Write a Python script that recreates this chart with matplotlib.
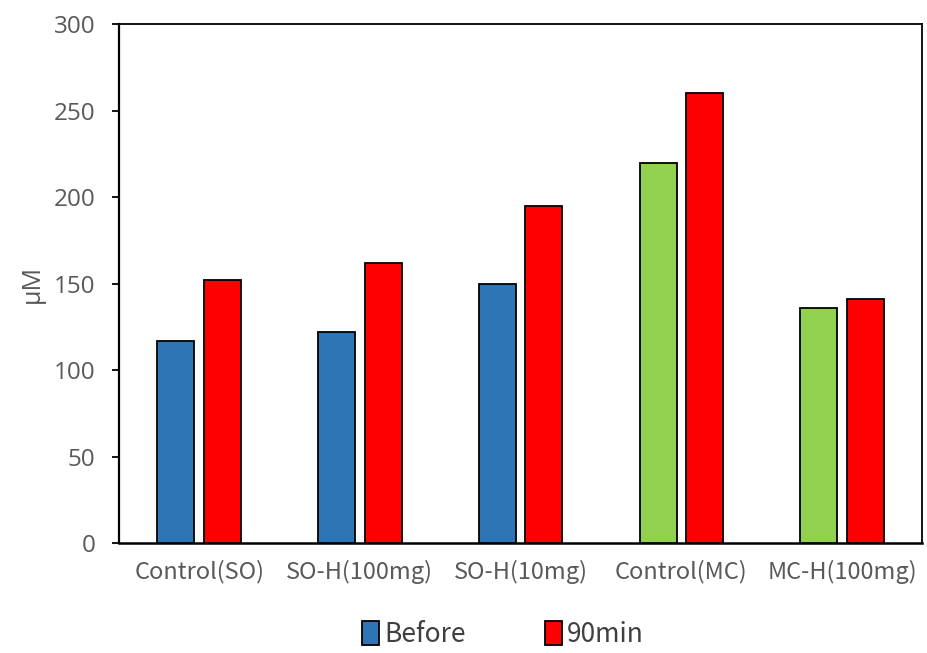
import matplotlib.pyplot as plt
import numpy as np
from matplotlib.patches import Patch

# Data
groups = ["Control(SO)", "SO-H(100mg)", "SO-H(10mg)", "Control(MC)", "MC-H(100mg)"]
before = [117, 122, 150, 220, 136]
after_90 = [152, 162, 195, 260, 141]
before_colors = ["#2E75B6", "#2E75B6", "#2E75B6", "#92D050", "#92D050"]
after_color = "#FF0000"

fig = plt.figure(figsize=(9.28, 6.53), dpi=100)
ax = fig.add_axes([0.128, 0.168, 0.866, 0.795])

x = np.arange(len(groups))
w = 0.23
off = 0.145
ax.bar(x - off, before, width=w, color=before_colors, edgecolor="black", linewidth=1.3, zorder=3)
ax.bar(x + off, after_90, width=w, color=after_color, edgecolor="black", linewidth=1.3, zorder=3)

ax.set_xlim(-0.5, len(groups) - 0.5)
ax.set_ylim(0, 300)
ax.set_yticks(np.arange(0, 301, 50))
ax.set_xticks(x)
ax.set_xticklabels(groups, family=["Noto Sans CJK JP", "DejaVu Sans"], fontsize=17, color="#595959")
ax.tick_params(axis="x", length=0, pad=12)
ax.tick_params(axis="y", direction="out", length=5, width=1.3, labelsize=17.5, labelcolor="#595959", pad=12)
for lbl in ax.get_yticklabels():
    lbl.set_family("Open Sans")

for s in ["top", "right"]:
    ax.spines[s].set_linewidth(1.3)
ax.spines["left"].set_linewidth(1.6)
ax.spines["bottom"].set_linewidth(1.8)

ax.set_ylabel("μM", fontsize=18, color="#595959", family="Open Sans", labelpad=6)

handles = [Patch(facecolor="#2E75B6", edgecolor="black", linewidth=1.3, label="Before"),
           Patch(facecolor=after_color, edgecolor="black", linewidth=1.3, label="90min")]
fig.legend(handles=handles, loc="center", bbox_to_anchor=(0.542, 0.028), ncol=2, frameon=False,
           prop={"family": "Noto Sans CJK JP", "size": 19}, handlelength=0.65, handleheight=1.0,
           handletextpad=0.2, columnspacing=3.0, labelcolor="#404040")

fig.savefig("out.png", dpi=100)
